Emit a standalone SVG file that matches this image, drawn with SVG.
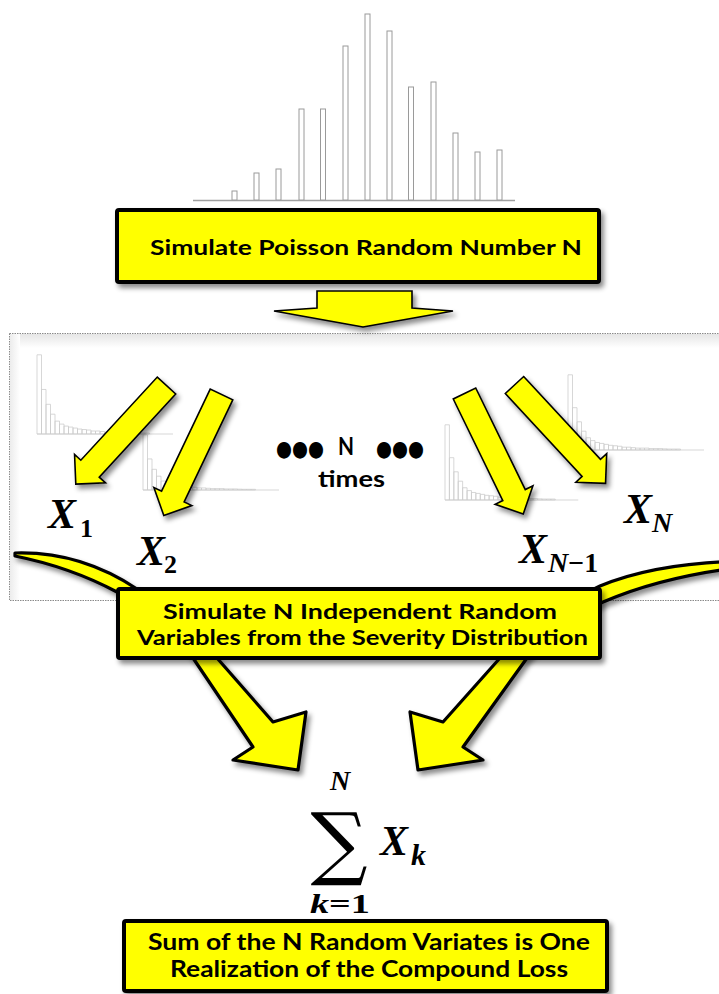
<svg xmlns="http://www.w3.org/2000/svg" width="719" height="994" viewBox="0 0 719 994">
<defs>
<style>
.box{fill:#ffff00;stroke:#000;stroke-width:4;}
.lbl{font-family:Lato,"Liberation Sans",sans-serif;font-weight:700;fill:#000;}
.math{font-family:"Liberation Serif","DejaVu Serif",serif;font-weight:700;font-style:italic;fill:#000;}
.up{font-style:normal;}
.arr{fill:#ffff00;stroke:#000;stroke-width:1.6;stroke-linejoin:miter;}
.carr{fill:#ffff00;stroke:#000;stroke-width:3.2;stroke-linejoin:round;}
.bar{fill:#fff;stroke:#9a9a9a;stroke-width:1;}
.hb{fill:none;stroke:#cdcdcd;stroke-width:0.8;vector-effect:non-scaling-stroke;}
</style>
<filter id="sh" x="-20%" y="-20%" width="150%" height="150%"><feDropShadow dx="3" dy="4" stdDeviation="2.5" flood-color="#000" flood-opacity="0.45"/></filter>
<linearGradient id="gt" x1="0" y1="0" x2="0" y2="1"><stop offset="0" stop-color="#e6e6e6"/><stop offset="1" stop-color="#ffffff"/></linearGradient>
<linearGradient id="gl" x1="0" y1="0" x2="1" y2="0"><stop offset="0" stop-color="#ececec"/><stop offset="1" stop-color="#ffffff"/></linearGradient>
<path id="sa" d="M0,-12.5 H113 V-21 L134,0 L113,21 V12.5 H0 Z"/>
<g id="hist">
<rect class="hb" x="0" y="-80" width="4.5" height="80"/>
<rect class="hb" x="4.5" y="-45" width="4.5" height="45"/>
<rect class="hb" x="9" y="-30" width="4.5" height="30"/>
<rect class="hb" x="13.5" y="-20" width="4.5" height="20"/>
<rect class="hb" x="18" y="-13" width="4.5" height="13"/>
<rect class="hb" x="22.5" y="-10" width="4.5" height="10"/>
<rect class="hb" x="27" y="-8" width="4.5" height="8"/>
<rect class="hb" x="31.5" y="-7" width="4.5" height="7"/>
<rect class="hb" x="36" y="-6" width="4.5" height="6"/>
<rect class="hb" x="40.5" y="-5" width="4.5" height="5"/>
<rect class="hb" x="45" y="-4.5" width="4.5" height="4.5"/>
<rect class="hb" x="49.5" y="-4" width="4.5" height="4"/>
<rect class="hb" x="54" y="-3" width="4.5" height="3"/>
<rect class="hb" x="58.5" y="-3" width="4.5" height="3"/>
<rect class="hb" x="63" y="-2.5" width="4.5" height="2.5"/>
<rect class="hb" x="67.5" y="-2" width="4.5" height="2"/>
<rect class="hb" x="72" y="-2" width="4.5" height="2"/>
<rect class="hb" x="76.5" y="-2" width="4.5" height="2"/>
<rect class="hb" x="81" y="-1.5" width="4.5" height="1.5"/>
<rect class="hb" x="85.5" y="-1.5" width="4.5" height="1.5"/>
<rect class="hb" x="90" y="-1.5" width="4.5" height="1.5"/>
<rect class="hb" x="94.5" y="-1.2" width="4.5" height="1.2"/>
<rect class="hb" x="99" y="-1" width="4.5" height="1"/>
<rect class="hb" x="103.5" y="-1" width="4.5" height="1"/>
<rect class="hb" x="108" y="-1" width="4.5" height="1"/>
<line class="hb" x1="0" y1="0" x2="136" y2="0"/>
</g>
</defs>
<rect width="719" height="994" fill="#fff"/>

<g id="poisson-histogram">
<line x1="193" y1="200.5" x2="515" y2="200.5" stroke="#a0a0a0" stroke-width="1.5"/>
<rect class="bar" x="232" y="191" width="5" height="9"/>
<rect class="bar" x="254" y="173" width="5" height="27"/>
<rect class="bar" x="276" y="169" width="5" height="31"/>
<rect class="bar" x="299" y="109" width="5" height="91"/>
<rect class="bar" x="320.5" y="109" width="5" height="91"/>
<rect class="bar" x="343" y="46" width="5" height="154"/>
<rect class="bar" x="365" y="14" width="5" height="186"/>
<rect class="bar" x="387" y="31" width="5" height="169"/>
<rect class="bar" x="408.5" y="87" width="5" height="113"/>
<rect class="bar" x="431" y="82" width="5" height="118"/>
<rect class="bar" x="453" y="133" width="5" height="67"/>
<rect class="bar" x="475" y="152" width="5" height="48"/>
<rect class="bar" x="497" y="150" width="5" height="50"/>
</g>

<g id="poisson">
<rect class="box" x="117" y="210" width="482" height="72" rx="2" filter="url(#sh)"/>
<text class="lbl" x="150" y="255" font-size="21.5" textLength="432" lengthAdjust="spacingAndGlyphs">Simulate Poisson Random Number N</text>
</g>

<g id="severity-panel">
<rect x="9.5" y="333.5" width="720" height="267" fill="#fff" stroke="#8a8a8a" stroke-width="1" stroke-dasharray="1.5,1"/>
<rect x="10" y="334" width="709" height="14" fill="url(#gt)"/>
<rect x="10" y="334" width="10" height="266" fill="url(#gl)"/>
<use href="#hist" transform="translate(37,434) scale(1,0.99)"/>
<use href="#hist" transform="translate(143,490) scale(1,0.69)"/>
<use href="#hist" transform="translate(445,500) scale(0.98,0.94)"/>
<use href="#hist" transform="translate(568,450) scale(1,0.94)"/>
<text x="276" y="456" font-family="'DejaVu Sans',sans-serif" font-size="22" textLength="48" lengthAdjust="spacingAndGlyphs">●●●</text>
<text class="lbl" x="338" y="455" font-size="24" textLength="16" lengthAdjust="spacingAndGlyphs">N</text>
<text x="376" y="456" font-family="'DejaVu Sans',sans-serif" font-size="22" textLength="48" lengthAdjust="spacingAndGlyphs">●●●</text>
<text class="lbl" x="318" y="487" font-size="22" textLength="67" lengthAdjust="spacingAndGlyphs">times</text>
<text class="math" x="48" y="528" font-size="42">X</text><text class="math up" x="80" y="537" font-size="26">1</text>
<text class="math" x="137" y="565" font-size="42">X</text><text class="math up" x="164" y="573" font-size="26">2</text>
<text class="math" x="519" y="563" font-size="42">X</text><text class="math" x="548" y="572" font-size="28">N<tspan class="up">−1</tspan></text>
<text class="math" x="624" y="523" font-size="42">X</text><text class="math" x="652" y="532" font-size="28">N</text>
</g>

<g id="connectors">
<g filter="url(#sh)">
<path class="arr" d="M317,291 H412 V308 L453,311 L363,327 L274,311 L317,308 Z"/>
</g>
<g filter="url(#sh)">
<use class="arr" href="#sa" transform="translate(166.5,385.5) rotate(132.6)"/>
<use class="arr" href="#sa" transform="translate(221.5,394.5) rotate(115.5)"/>
<use class="arr" href="#sa" transform="translate(464.5,393.5) rotate(64)"/>
<use class="arr" href="#sa" transform="translate(514.5,385) rotate(47.2)"/>
</g>
<g filter="url(#sh)">
<path class="carr" d="M15,553 Q80,551 137,589 Q190,620 217,658 L273,722 L306,712 L298,770 L233,760 L253,747 L193,658 Q160,615 117,592 Q70,567 15,556 Z"/>
<path class="carr" d="M742,561 Q655,563 600,586 Q540,614 500,658 L443,722 L410,712 L418,770 L483,760 L463,747 L527,658 Q560,622 603,602 Q660,577 742,567 Z"/>
</g>
</g>

<g id="severity">
<rect class="box" x="118" y="589" width="482" height="69" rx="2" filter="url(#sh)"/>
<text class="lbl" x="163" y="619" font-size="21.5" textLength="394" lengthAdjust="spacingAndGlyphs">Simulate N Independent Random</text>
<text class="lbl" x="137" y="645" font-size="21.5" textLength="451" lengthAdjust="spacingAndGlyphs">Variables from the Severity Distribution</text>
</g>

<g id="sum">
<text class="math" x="330" y="790" font-size="28">N</text>
<text x="339" y="870" font-family="'DejaVu Serif','DejaVu Sans',serif" font-size="80" text-anchor="middle">∑</text>
<text class="math" x="380" y="855" font-size="42">X</text>
<text class="math" x="411" y="865" font-size="30">k</text>
<text class="math" x="310" y="913" font-size="28" textLength="60" lengthAdjust="spacingAndGlyphs">k<tspan class="up">=1</tspan></text>
</g>

<g id="result">
<rect class="box" x="124" y="921" width="483" height="70" rx="2" filter="url(#sh)"/>
<text class="lbl" x="148" y="950" font-size="22.5" textLength="442" lengthAdjust="spacingAndGlyphs">Sum of the N Random Variates is One</text>
<text class="lbl" x="170" y="977" font-size="22.5" textLength="398" lengthAdjust="spacingAndGlyphs">Realization of the Compound Loss</text>
</g>
</svg>
